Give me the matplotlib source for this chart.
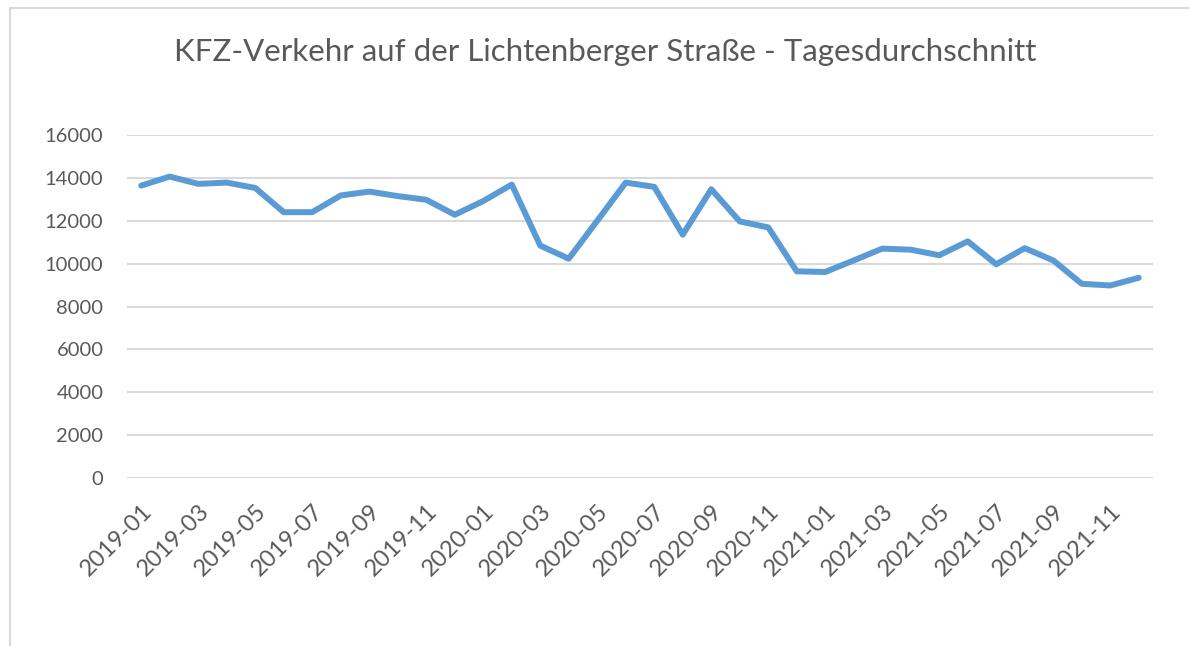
import matplotlib.pyplot as plt
from matplotlib.patches import Rectangle

# monthly averages
months = [f"{y}-{m:02d}" for y in (2019, 2020, 2021) for m in range(1, 13)]
kfz_values = [13640, 14060, 13720, 13780, 13530, 12400, 12400, 13180, 13360, 13150, 12980, 12280,
              12920, 13690, 10840, 10230, 12000, 13780, 13580, 11350, 13470, 11970, 11690, 9640,
              9610, 10150, 10700, 10650, 10390, 11040, 9970, 10720, 10150, 9060, 8980, 9340]
y_ticks = [0, 2000, 4000, 6000, 8000, 10000, 12000, 14000, 16000]
title = "KFZ-Verkehr auf der Lichtenberger Straße - Tagesdurchschnitt"

plt.rcParams['font.family'] = ['Lato', 'DejaVu Sans']
text_col = '#595959'

fig = plt.figure(figsize=(11.89, 6.46), dpi=100)
# chart frame (left/top edges visible in the screenshot)
fig.patches.append(Rectangle((10 / 1189, -0.1), 1.2, 1 - 8 / 646 + 0.1, transform=fig.transFigure,
                             fill=False, edgecolor='#d9d9d9', linewidth=1.5))

ax = fig.add_axes([127 / 1189, 1 - 478 / 646, (1153 - 127) / 1189, (478 - 135) / 646])
x = list(range(len(months)))
ax.plot(x, kfz_values, color='#5b9bd5', linewidth=4.3, solid_joinstyle='round',
        solid_capstyle='round', clip_on=False, zorder=3)

ax.set_xlim(-0.5, len(months) - 0.5)
ax.set_ylim(0, 16000)
ax.set_yticks(y_ticks)
ax.set_yticklabels([str(v) for v in y_ticks], fontsize=14.5, color=text_col)
ax.set_xticks(x[::2])
ax.set_xticklabels(months[::2], rotation=45, ha='right', va='top', rotation_mode='anchor',
                   fontsize=17, color=text_col)
ax.tick_params(axis='both', length=0)
ax.tick_params(axis='y', pad=17)
ax.tick_params(axis='x', pad=16)
ax.grid(axis='y', color='#d9d9d9', linewidth=1.5, zorder=0)
ax.set_axisbelow(True)
for s in ax.spines.values():
    s.set_visible(False)

fig.text(605 / 1189, 1 - 52 / 646, title, ha='center', va='center', fontsize=22.5, color=text_col)

fig.savefig('out.png', dpi=100, facecolor='white')
